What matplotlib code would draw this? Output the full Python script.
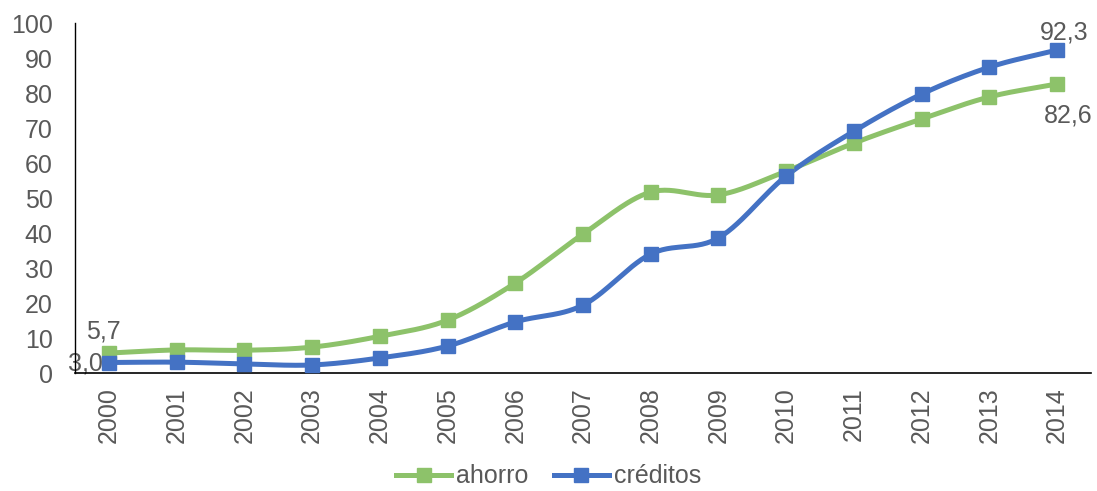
import numpy as np
import matplotlib

matplotlib.use('Agg')
import matplotlib.pyplot as plt
from matplotlib.lines import Line2D

plt.rcParams['font.family'] = ['Liberation Sans', 'DejaVu Sans']

years = [str(y) for y in range(2000, 2015)]
ahorro = [5.7, 6.6, 6.5, 7.4, 10.5, 15.1, 25.7, 39.7, 51.7, 50.9, 57.7, 65.7, 72.6, 78.9, 82.6]
creditos = [3.0, 3.1, 2.6, 2.3, 4.3, 7.7, 14.6, 19.4, 34.0, 38.6, 56.3, 69.1, 79.7, 87.4, 92.3]

GREEN = '#8DC26A'
BLUE = '#4472C4'
GREY = '#595959'
FS = 18


def smooth(x, y, n=30):
    # catmull-rom through the points, roughly like Excel's smoothed lines
    x = np.asarray(x, float)
    y = np.asarray(y, float)
    px = np.concatenate([[2 * x[0] - x[1]], x, [2 * x[-1] - x[-2]]])
    py = np.concatenate([[2 * y[0] - y[1]], y, [2 * y[-1] - y[-2]]])
    xs, ys = [], []
    t = np.linspace(0, 1, n)
    for i in range(1, len(px) - 2):
        for p, out in ((px, xs), (py, ys)):
            p0, p1, p2, p3 = p[i - 1], p[i], p[i + 1], p[i + 2]
            out.extend(0.5 * ((2 * p1) + (-p0 + p2) * t
                              + (2 * p0 - 5 * p1 + 4 * p2 - p3) * t ** 2
                              + (-p0 + 3 * p1 - 3 * p2 + p3) * t ** 3))
    return xs, ys


fig = plt.figure(figsize=(10.97, 4.91), dpi=100)
ax = fig.add_axes([0.0684, 0.2403, 0.9261, 0.7127])

x = np.arange(len(years))
for vals, col in ((ahorro, GREEN), (creditos, BLUE)):
    sx, sy = smooth(x, vals)
    ax.plot(sx, sy, color=col, lw=3.6, solid_capstyle='round', zorder=2)
    ax.plot(x, vals, ls='none', marker='s', ms=10.5, color=col, zorder=3)

ax.set_xlim(-0.5, len(years) - 0.5)
ax.set_ylim(0, 100)
ax.set_yticks(range(0, 101, 10))
ax.set_xticks(x)
ax.set_xticklabels(years, rotation=90)
ax.tick_params(axis='both', length=0, labelsize=FS, labelcolor=GREY)
ax.tick_params(axis='x', pad=10)
ax.tick_params(axis='y', pad=16)
for s in ('top', 'right'):
    ax.spines[s].set_visible(False)
ax.spines['left'].set_color('black')
ax.spines['bottom'].set_color('black')
ax.spines['left'].set_linewidth(1)
ax.spines['bottom'].set_linewidth(1.2)

# data labels on first and last points
lbl = dict(fontsize=FS, color=GREY, textcoords='offset points', zorder=1)
ax.annotate('5,7', (x[0], ahorro[0]), xytext=(-4, 7), ha='center', va='bottom', **lbl)
ax.annotate('3,0', (x[0], creditos[0]), xytext=(-4, -1), ha='right', va='center', **lbl)
ax.annotate('92,3', (x[-1], creditos[-1]), xytext=(5, 4), ha='center', va='bottom', **lbl)
ax.annotate('82,6', (x[-1], ahorro[-1]), xytext=(8, -14), ha='center', va='top', **lbl)

handles = [Line2D([], [], color=GREEN, lw=3.6, marker='s', ms=10.5),
           Line2D([], [], color=BLUE, lw=3.6, marker='s', ms=10.5)]
fig.legend(handles, ['ahorro', 'créditos'], loc='center', bbox_to_anchor=(0.5, 0.03),
           ncol=2, frameon=False, fontsize=FS, labelcolor=GREY, handlelength=2.2,
           handletextpad=0.2, columnspacing=1.0, borderpad=0.1)

fig.savefig('out.png', dpi=100)
